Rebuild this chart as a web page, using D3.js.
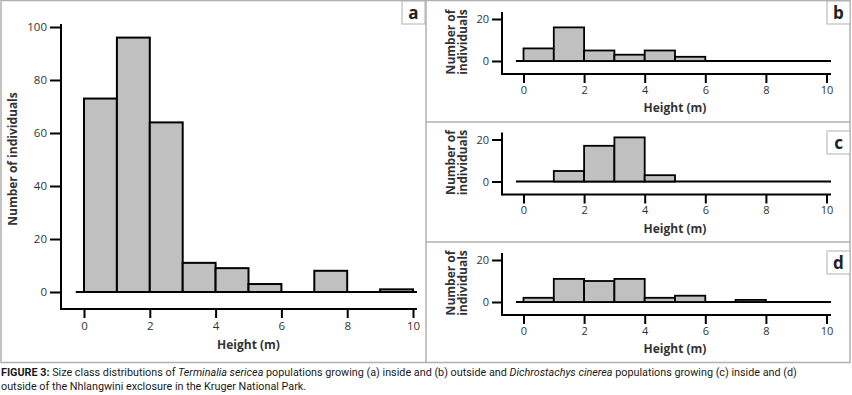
<!DOCTYPE html>
<html><head><meta charset="utf-8">
<script src="https://cdn.jsdelivr.net/npm/d3@7"></script>
<style>
body{margin:0;background:#fff;}
svg{display:block;}
</style></head>
<body>
<svg id="c" width="852" height="395"></svg>
<script>
// ---- data ----
const binStarts = [0,1,2,3,4,5,6,7,8,9];
const binWidth = 1;
const countsA = [73,96,64,11,9,3,0,8,0,1];   // T. sericea inside
const countsB = [6,16,5,3,5,2,0,0,0,0];      // T. sericea outside
const countsC = [0,5,17,21,3,0,0,0,0,0];     // D. cinerea inside
const countsD = [2,11,10,11,2,3,0,1,0,0];    // D. cinerea outside
const xTicks = [0,2,4,6,8,10];
const yTicksA = [0,20,40,60,80,100];
const yTicksSmall = [0,20];
const panelLetters = ["a","b","c","d"];
const xLabel = "Height (m)";
const yLabel = "Number of individuals";
const yLabelSmall = ["Number of","individuals"];

const svg = d3.select("#c");
const font = "'Open Sans','Noto Sans',sans-serif";

// frame
const fr = svg.append("g").attr("stroke","#b0b0b0").attr("stroke-width",1.5).attr("fill","none");
fr.append("rect").attr("x",1).attr("y",0.5).attr("width",849).attr("height",362);
fr.append("line").attr("x1",426).attr("x2",426).attr("y1",0).attr("y2",362);
fr.append("line").attr("x1",426).attr("x2",850).attr("y1",122).attr("y2",122);
fr.append("line").attr("x1",426).attr("x2",850).attr("y1",242).attr("y2",242);

function panel(cfg){
  const g = svg.append("g");
  const x = d3.scaleLinear().domain([0,10]).range(cfg.xr);
  const y = d3.scaleLinear().domain([0,cfg.ymax]).range(cfg.yr);
  const data = binStarts.map((s,i)=>({s, v:cfg.counts[i]}));
  // baseline
  g.append("line").attr("x1",x(-0.25)).attr("x2",cfg.axRight).attr("y1",y(0)).attr("y2",y(0))
    .attr("stroke","#000").attr("stroke-width",2);
  // bars
  g.selectAll("rect.bar").data(data.filter(d=>d.v>0)).join("rect").attr("class","bar")
    .attr("x",d=>x(d.s)).attr("width",d=>x(d.s+binWidth)-x(d.s))
    .attr("y",d=>y(d.v)).attr("height",d=>y(0)-y(d.v))
    .attr("fill","#c0c0c0").attr("stroke","#000").attr("stroke-width",cfg.sw);
  // axes
  const xa = g.append("g").attr("transform",`translate(0,${cfg.axY})`)
    .call(d3.axisBottom(x).tickValues(xTicks).tickSize(cfg.tick).tickPadding(cfg.pad).tickSizeOuter(0));
  const ya = g.append("g").attr("transform",`translate(${cfg.axX},0)`)
    .call(d3.axisLeft(y).tickValues(cfg.yTicks).tickSize(cfg.ytick).tickPadding(3).tickSizeOuter(0));
  [xa,ya].forEach(a=>{
    a.select(".domain").remove();
    a.selectAll("line").attr("stroke","#000").attr("stroke-width",cfg.axw);
    a.selectAll("text").attr("font-family",font).attr("font-size",cfg.fs).attr("fill","#333");
  });
  g.append("line").attr("x1",cfg.axX).attr("x2",cfg.axX).attr("y1",cfg.axTop).attr("y2",cfg.axY+1)
    .attr("stroke","#000").attr("stroke-width",2);
  g.append("line").attr("x1",cfg.axX).attr("x2",cfg.axRight).attr("y1",cfg.axY).attr("y2",cfg.axY)
    .attr("stroke","#000").attr("stroke-width",2);
  // x label
  g.append("text").attr("x",(x(0)+x(10))/2).attr("y",cfg.xlY).attr("text-anchor","middle")
    .attr("font-family",font).attr("font-weight","bold").attr("font-size",cfg.lfs).attr("fill","#333").text(xLabel);
  // y label
  const yl = g.append("text").attr("transform",`translate(${cfg.ylX},${cfg.ylY}) rotate(-90)`)
    .attr("text-anchor","middle").attr("font-family",font).attr("font-weight","bold")
    .attr("font-size",cfg.lfs).attr("fill","#333");
  if(cfg.twoLine){
    yl.append("tspan").attr("x",0).attr("dy","-0.15em").text(yLabelSmall[0]);
    yl.append("tspan").attr("x",0).attr("dy","0.95em").text(yLabelSmall[1]);
  } else yl.text(yLabel);
  // letter box
  g.append("rect").attr("x",cfg.bx).attr("y",cfg.by).attr("width",23).attr("height",23)
    .attr("fill","#fff").attr("stroke","#b0b0b0").attr("stroke-width",1);
  g.append("text").attr("x",cfg.bx+11.5).attr("y",cfg.by+18).attr("text-anchor","middle")
    .attr("font-family",font).attr("font-weight","bold").attr("font-size",17).attr("fill","#222").text(cfg.letter);
}

panel({counts:countsA, xr:[84,413], yr:[292,27], ymax:100, yTicks:yTicksA,
  axX:61, axY:309, axTop:24, axRight:417, tick:9, pad:4, ytick:11, axw:2, sw:2,
  fs:11.5, lfs:12, xlY:349, ylX:17, ylY:159, bx:402, by:1, letter:panelLetters[0]});

[[countsB,0],[countsC,1],[countsD,2]].forEach(([cnt,k])=>{
  const off = k*120.5;
  panel({counts:cnt, xr:[523.5,826.5], yr:[61+off,19+off], ymax:20, yTicks:yTicksSmall,
    axX:502, axY:74+off, axTop:12+off, axRight:831, tick:9, pad:3, ytick:10, axw:2, sw:1.8,
    fs:11, lfs:12, xlY:112+off, ylX:457, ylY:42+off, twoLine:true,
    bx:827, by: k===0 ? 1 : 131+(k-1)*120, letter:panelLetters[k+1]});
});

// caption (font size fitted so line 1 spans most of the figure width)
const cap = svg.append("g").attr("font-family","'Roboto','Noto Sans',sans-serif")
  .attr("fill","#1a1a1a").attr("font-size",10);
const t1 = cap.append("text").attr("x",1).attr("y",376);
t1.append("tspan").attr("font-weight","bold").text("FIGURE 3:");
t1.append("tspan").text(" Size class distributions of ");
t1.append("tspan").attr("font-style","italic").text("Terminalia sericea");
t1.append("tspan").text(" populations growing (a) inside and (b) outside and ");
t1.append("tspan").attr("font-style","italic").text("Dichrostachys cinerea");
t1.append("tspan").text(" populations growing (c) inside and (d)");
const t2 = cap.append("text").attr("x",1).attr("y",389.5)
  .text("outside of the Nhlangwini exclosure in the Kruger National Park.");
const w = t1.node().getComputedTextLength();
const fs = Math.min(10.8, 10*846/w);
cap.attr("font-size",fs);
</script>
</body></html>
